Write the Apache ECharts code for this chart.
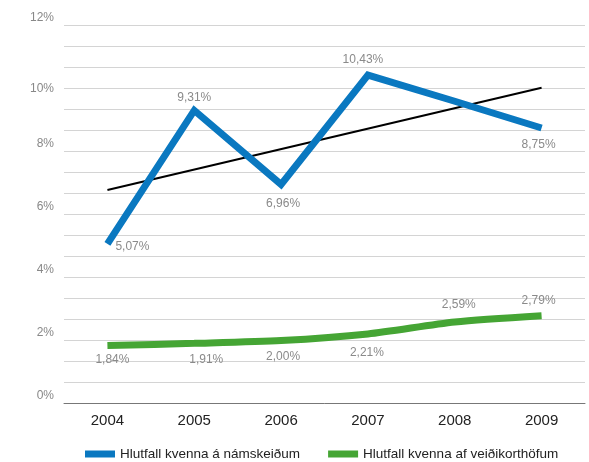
<!DOCTYPE html>
<html><head><meta charset="utf-8">
<script src="https://cdn.jsdelivr.net/npm/echarts@6/dist/echarts.min.js"></script>
<style>html,body{margin:0;padding:0;background:#fff}#c{width:589px;height:462px}</style>
</head><body><div id="c"></div>
<script>
const years = ['2004','2005','2006','2007','2008','2009'];
const namskeid = [5.07, 9.31, 6.96, 10.43, 9.6, 8.75];
const namskeidLabels = ['5,07%','9,31%','6,96%','10,43%','','8,75%'];
const veidikort = [1.84, 1.91, 2.00, 2.21, 2.59, 2.79];
const veidikortLabels = ['1,84%','1,91%','2,00%','2,21%','2,59%','2,79%'];
const trend = [6.78, null, null, null, null, 10.03];
const seriesNames = ['Hlutfall kvenna á námskeiðum', 'Hlutfall kvenna af veiðikorthöfum'];

const blueLabelStyle = [
  {position:'right', offset:[3,3]},
  {position:'top', offset:[0,-2]},
  {position:'bottom', offset:[2,8]},
  {position:'top', offset:[-5,-4]},
  {show:false},
  {position:'bottom', offset:[-3,6]}
];
const greenLabelStyle = [
  {position:'bottom', offset:[5,3]},
  {position:'bottom', offset:[12,5]},
  {position:'bottom', offset:[2,5]},
  {position:'bottom', offset:[-1,8]},
  {position:'top', offset:[4,-6]},
  {position:'top', offset:[-3,-4]}
];

const chart = echarts.init(document.getElementById('c'));
const labelBase = {show:true, color:'#8a8a8a', fontSize:12, fontFamily:'Liberation Sans Narrow, Liberation Sans, sans-serif'};
chart.setOption({
  animation:false,
  textStyle:{fontFamily:'Liberation Sans Narrow, Liberation Sans, sans-serif'},
  grid:{left:64, right:4, top:25.7, bottom:58.5},
  legend:{
    data:seriesNames, left:80, top:442, itemWidth:30, itemHeight:7, itemGap:28,
    icon:'rect', textStyle:{fontSize:13.5, color:'#222'}
  },
  xAxis:{
    type:'category', data:years, boundaryGap:true,
    axisLine:{lineStyle:{color:'#777', width:1}},
    axisTick:{show:false},
    axisLabel:{color:'#222', fontSize:15, margin:10, fontFamily:'Liberation Sans, sans-serif'}
  },
  yAxis:{
    type:'value', min:0, max:12, interval:2/3,
    axisLine:{show:false}, axisTick:{show:false},
    splitLine:{lineStyle:{color:'#d4d4d4', width:1.2}},
    axisLabel:{
      color:'#888', fontSize:12, margin:10,
      formatter:function(v){
        const r = Math.round(v);
        if (Math.abs(v - r) > 1e-6 || r % 2 !== 0) return '';
        if (r === 10) return '{b|' + r + '%}';
        return '{a|' + r + '%}';
      },
      rich:{
        a:{color:'#888', fontSize:12, padding:[0,0,16,0]},
        b:{color:'#888', fontSize:12, padding:[0,0,0,0]}
      }
    }
  },
  series:[
    {
      name:seriesNames[0], type:'line', symbol:'circle', symbolSize:0, showSymbol:true,
      lineStyle:{color:'#0a78c0', width:7, join:'miter'},
      itemStyle:{color:'#0a78c0'},
      data:namskeid.map((v,i)=>({value:v, label:Object.assign({}, labelBase, blueLabelStyle[i], {formatter:namskeidLabels[i]})})),
      z:3
    },
    {
      name:seriesNames[1], type:'line', symbol:'circle', symbolSize:0, showSymbol:true, smooth:0.25,
      lineStyle:{color:'#45a534', width:7},
      itemStyle:{color:'#45a534'},
      data:veidikort.map((v,i)=>({value:v, label:Object.assign({}, labelBase, greenLabelStyle[i], {formatter:veidikortLabels[i]})})),
      z:3
    },
    {
      name:'trend', type:'line', symbol:'none', connectNulls:true,
      lineStyle:{color:'#000', width:2}, data:trend, z:2, silent:true
    }
  ]
});
</script></body></html>
